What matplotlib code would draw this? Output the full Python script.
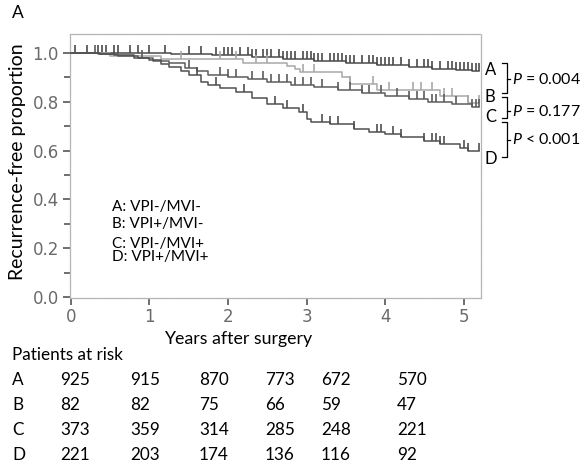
import numpy as np
import matplotlib
matplotlib.use("Agg")
import matplotlib.pyplot as plt
from matplotlib.path import Path
from matplotlib.lines import Line2D

plt.rcParams["font.family"] = ["Lato", "DejaVu Sans"]
plt.rcParams["mathtext.fontset"] = "custom"
plt.rcParams["mathtext.rm"] = "Lato"
plt.rcParams["mathtext.it"] = "Lato:italic"

# Kaplan-Meier step data (years, recurrence-free proportion) and censoring times
a_time = [0, 1.27, 1.8, 2.3, 2.7, 3.1, 3.5, 3.9, 4.3, 4.6, 4.9, 5.1]
a_surv = [1.0, 0.995, 0.99, 0.983, 0.975, 0.967, 0.958, 0.95, 0.942, 0.935, 0.93, 0.926]
a_cens = [0.05, 0.2, 0.35, 0.4, 0.45, 0.55, 0.6, 0.75, 0.85, 1.0, 1.2, 1.5, 1.65,
          1.85, 1.95, 2.0, 2.05, 2.15, 2.25, 2.3, 2.35, 2.45, 2.5, 2.55, 2.65, 2.7,
          2.75, 2.8, 2.85, 2.95, 3.0, 3.05, 3.1, 3.15, 3.2, 3.3, 3.35, 3.4, 3.45,
          3.5, 3.55, 3.6, 3.7, 3.8, 3.85, 3.9, 3.95, 4.0, 4.05, 4.1, 4.2, 4.3, 4.4,
          4.5, 4.55, 4.6, 4.7, 4.8, 4.85, 4.9, 4.95, 5.0, 5.05, 5.1, 5.15, 5.2]

b_time = [0, 0.5, 1.15, 2.19, 2.75, 2.85, 2.92, 3.45, 3.55, 3.9, 4.7, 5.05]
b_surv = [1.0, 0.988, 0.976, 0.96, 0.948, 0.935, 0.922, 0.9, 0.875, 0.85, 0.825, 0.795]
b_cens = [1.4, 1.9, 2.1, 2.35, 2.5, 2.95, 3.1, 3.55, 3.85, 4.05, 4.35, 4.45,
          4.6, 4.75, 4.85, 5.05, 5.2]

c_time = [0, 0.35, 0.6, 0.85, 1.05, 1.25, 1.45, 1.6, 1.75, 2.0, 2.25, 2.5, 2.8,
          3.1, 3.4, 3.7, 4.0, 4.3, 4.55, 4.85, 5.1]
c_surv = [1.0, 0.995, 0.987, 0.978, 0.968, 0.958, 0.94, 0.925, 0.912, 0.903, 0.892,
          0.88, 0.87, 0.86, 0.848, 0.836, 0.822, 0.81, 0.8, 0.79, 0.777]
c_cens = [0.3, 0.9, 1.5, 1.9, 2.0, 2.1, 2.3, 2.45, 2.55, 2.65, 2.75, 2.85, 2.95,
          3.05, 3.2, 3.4, 3.55, 3.7, 3.8, 3.95, 4.15, 4.3, 4.4, 4.5, 4.6, 4.65,
          4.75, 4.9, 5.1, 5.15, 5.2]

d_time = [0, 0.37, 0.55, 0.8, 1.0, 1.15, 1.25, 1.4, 1.5, 1.65, 1.75, 1.9, 2.1, 2.3,
          2.5, 2.7, 2.9, 3.0, 3.05, 3.3, 3.6, 3.8, 4.0, 4.2, 4.5, 4.7, 4.95, 5.05]
d_surv = [1.0, 0.995, 0.99, 0.98, 0.97, 0.955, 0.943, 0.925, 0.91, 0.88, 0.868,
          0.855, 0.84, 0.815, 0.79, 0.775, 0.758, 0.728, 0.718, 0.71, 0.69, 0.678,
          0.668, 0.657, 0.64, 0.628, 0.612, 0.6]
d_cens = [1.6, 1.85, 2.2, 2.6, 2.75, 2.95, 3.2, 3.3, 3.4, 3.6, 3.9, 3.95, 4.1,
          4.2, 4.5, 4.6, 4.65, 4.7, 4.75, 5.0, 5.05, 5.2]

groups = ["A", "B", "C", "D"]
legend_labels = ["A: VPI-/MVI-", "B: VPI+/MVI-", "C: VPI-/MVI+", "D: VPI+/MVI+"]
p_texts = [r"$\it{P}$ = 0.004", r"$\it{P}$ = 0.177", r"$\it{P}$ < 0.001"]

risk_years = [0, 1, 2, 3, 4, 5]
risk_a = [925, 915, 870, 773, 672, 570]
risk_b = [82, 82, 75, 66, 59, 47]
risk_c = [373, 359, 314, 285, 248, 221]
risk_d = [221, 203, 174, 136, 116, 92]

W, H = 586, 468
fig = plt.figure(figsize=(W / 100, H / 100), dpi=100)


def fx(x):
    return x / W


def fy(y):
    return 1 - y / H


# axes box in pixels: left 70, right 481, top 34, bottom 298
ax = fig.add_axes([fx(70), fy(298), fx(481) - fx(70), fy(34) - fy(298)])
ax.set_xlim(-0.012, 5.22)
ax.set_ylim(-0.004, 1.078)

curves = [
    (a_time, a_surv, a_cens, "#4a4a4a"),
    (b_time, b_surv, b_cens, "#a8a8a8"),
    (c_time, c_surv, c_cens, "#5c5c5c"),
    (d_time, d_surv, d_cens, "#4f4f4f"),
]
tick_marker = Path([(0, 0), (0, 1)], [Path.MOVETO, Path.LINETO])

for t, s, cens, col in curves:
    t = np.asarray(t)
    s = np.asarray(s)
    cens = np.asarray(cens)
    end = max(t[-1], cens.max())
    ax.step(np.append(t, end), np.append(s, s[-1]), where="post",
            color=col, lw=1.1, zorder=3)
    idx = np.searchsorted(t, cens, side="right") - 1
    ax.plot(cens, s[idx], linestyle="none", marker=tick_marker, markersize=12,
            markeredgewidth=1.2, color=col, zorder=3)

for sp in ax.spines.values():
    sp.set_color("#b5b5b5")
    sp.set_linewidth(0.9)
    sp.set_linestyle((0, (1.5, 0.8)))

ax.set_xticks(risk_years)
ax.set_xticklabels([str(v) for v in risk_years])
ax.set_yticks([0.0, 0.2, 0.4, 0.6, 0.8, 1.0])
ax.set_yticklabels(["0.0", "0.2", "0.4", "0.6", "0.8", "1.0"])
ax.set_yticks([0.1, 0.3, 0.5, 0.7, 0.9], minor=True)
ax.tick_params(axis="both", which="major", direction="out", length=5, width=1.2,
               color="#555555", labelcolor="#6a6a6a", labelsize=12)
ax.tick_params(axis="x", which="major", pad=2)
ax.tick_params(axis="y", which="major", pad=3)
ax.tick_params(axis="y", which="minor", direction="out", length=4, width=1.2,
               color="#555555")
for lab in ax.get_xticklabels() + ax.get_yticklabels():
    lab.set_family("DejaVu Sans")

# group letters at the curve ends
for g, y in zip(groups, [70, 97, 117, 159]):
    fig.text(fx(485), fy(y), g, fontsize=12, va="center", ha="left")

# brackets with p-values
for (y0, y1, ym), ptxt in zip([(63, 93, 79), (97, 118, 111), (122, 157, 140)], p_texts):
    xv = 507
    fig.add_artist(Line2D([fx(502), fx(xv), fx(xv), fx(502)],
                          [fy(y0), fy(y0), fy(y1), fy(y1)], color="black", lw=0.9))
    fig.add_artist(Line2D([fx(xv), fx(510)], [fy(ym), fy(ym)], color="black", lw=0.9))
    fig.text(fx(512), fy(ym), ptxt, fontsize=11.5, va="center", ha="left")

# legend text inside the plot
for lab, y in zip(legend_labels, [207, 224, 244, 257]):
    fig.text(fx(112), fy(y), lab, fontsize=11, va="center", ha="left")

fig.text(fx(12), fy(13), "A", fontsize=12.5, va="center", ha="left")
fig.text(fx(18), fy(162), "Recurrence-free proportion", fontsize=14,
         rotation=90, va="center", ha="center")
fig.text(fx(238), fy(339), "Years after surgery", fontsize=12.8, va="center", ha="center")

# patients-at-risk table
fig.text(fx(12), fy(355), "Patients at risk", fontsize=12.3, va="center", ha="left")
col_x = [60, 130, 199, 265, 321, 397]
for g, row, y in zip(groups, [risk_a, risk_b, risk_c, risk_d], [380, 405, 430, 455]):
    fig.text(fx(12), fy(y), g, fontsize=12.3, va="center", ha="left")
    for x, v in zip(col_x, row):
        fig.text(fx(x), fy(y), str(v), fontsize=12.3, va="center", ha="left")

fig.savefig("out.png", dpi=100)
